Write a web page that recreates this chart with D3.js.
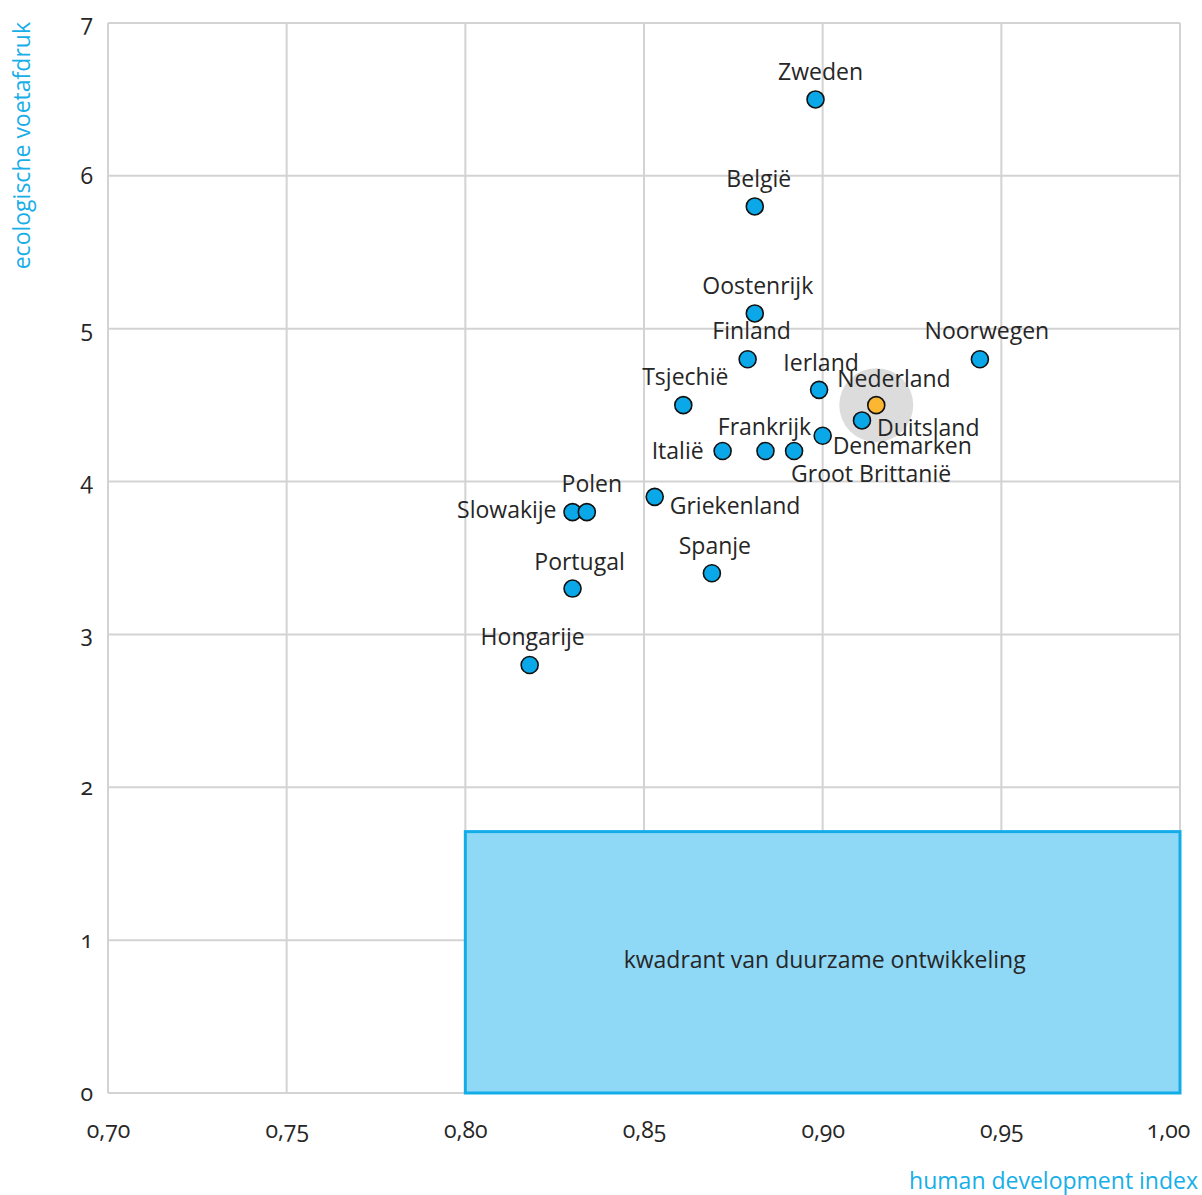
<!DOCTYPE html>
<html><head><meta charset="utf-8">
<script src="https://cdn.jsdelivr.net/npm/d3@7"></script>
<style>
body{margin:0;background:#fff;}
svg text{font-family:"Open Sans","Noto Sans",sans-serif;fill:#262626;}
.num{font-variant-numeric:oldstyle-nums;font-feature-settings:"onum" 1;}
</style></head>
<body><svg id="c" width="1202" height="1195"></svg>
<script>
const countries = ["Zweden","België","Oostenrijk","Finland","Noorwegen","Ierland","Nederland","Duitsland","Denemarken","Tsjechië","Italië","Frankrijk","Groot Brittanië","Griekenland","Slowakije","Polen","Portugal","Spanje","Hongarije"];
const hdi = [0.898,0.881,0.881,0.879,0.944,0.899,0.915,0.911,0.900,0.861,0.872,0.884,0.892,0.853,0.830,0.834,0.830,0.869,0.818];
const footprint = [6.5,5.8,5.1,4.8,4.8,4.6,4.5,4.4,4.3,4.5,4.2,4.2,4.2,3.9,3.8,3.8,3.3,3.4,2.8];
const xTicks = [0.70,0.75,0.80,0.85,0.90,0.95,1.00];
const yTicks = [0,1,2,3,4,5,6,7];
const quadrant = {x0:0.80, x1:1.00, y0:0, y1:1.71};
const highlight = "Nederland";
// label layout: [dx, dy, anchor]
const labelLayout = {
 "Zweden":[5,-19,"middle"],"België":[4,-19,"middle"],"Oostenrijk":[3,-19,"middle"],
 "Finland":[4,-20,"middle"],"Noorwegen":[7,-20,"middle"],"Ierland":[2,-19,"middle"],
 "Nederland":[-39,-18,"start"],"Duitsland":[15,16,"start"],"Denemarken":[10,18,"start"],
 "Tsjechië":[2,-20,"middle"],"Italië":[-19,8,"end"],"Frankrijk":[-1,-16,"middle"],
 "Groot Brittanië":[-3,31,"start"],"Griekenland":[15,17,"start"],"Slowakije":[-16,6,"end"],
 "Polen":[5,-20,"middle"],"Portugal":[7,-19,"middle"],"Spanje":[3,-19,"middle"],"Hongarije":[3,-20,"middle"]
};

const svg = d3.select("#c");
const x = d3.scaleLinear().domain([0.70,1.00]).range([108,1180]);
const y = d3.scaleLinear().domain([0,7]).range([1093,23]);
const grid = "#d3d3d3";

// grid
svg.append("g").selectAll("line").data(xTicks).join("line")
  .attr("x1",d=>x(d)).attr("x2",d=>x(d)).attr("y1",y(0)).attr("y2",y(7))
  .attr("stroke",grid).attr("stroke-width",2);
svg.append("g").selectAll("line").data(yTicks).join("line")
  .attr("x1",x(0.70)).attr("x2",x(1.00)).attr("y1",d=>y(d)).attr("y2",d=>y(d))
  .attr("stroke",grid).attr("stroke-width",2);

// axes (labels only)
const fmt = d => d3.format(".2f")(d).replace(".",",");
const xa = svg.append("g").attr("transform",`translate(0,${y(0)})`)
  .call(d3.axisBottom(x).tickValues(xTicks).tickFormat(fmt).tickSize(0).tickPadding(29));
xa.select(".domain").remove();
xa.selectAll("text").attr("class","num").attr("font-size",23).style("fill","#262626")
  .attr("font-family",'"Open Sans","Noto Sans",sans-serif')
  .attr("dx",d=>d===1.00?-12:0);
const ya = svg.append("g").attr("transform",`translate(${x(0.70)},0)`)
  .call(d3.axisLeft(y).tickValues(yTicks).tickFormat(d3.format("d")).tickSize(0).tickPadding(15));
ya.select(".domain").remove();
ya.selectAll("text").attr("class","num").attr("font-size",23).style("fill","#262626")
  .attr("font-family",'"Open Sans","Noto Sans",sans-serif');

// quadrant
svg.append("rect").attr("x",x(quadrant.x0)).attr("y",y(quadrant.y1))
  .attr("width",x(quadrant.x1)-x(quadrant.x0)).attr("height",y(quadrant.y0)-y(quadrant.y1))
  .attr("fill","#8fd8f6").attr("stroke","#12ade9").attr("stroke-width",3);
svg.append("text").attr("x",x((quadrant.x0+quadrant.x1)/2)+2).attr("y",y(0.82))
  .attr("text-anchor","middle").attr("font-size",23).text("kwadrant van duurzame ontwikkeling");

// axis titles
svg.append("text").attr("x",1198).attr("y",1189).attr("text-anchor","end")
  .attr("font-size",23).style("fill","#18aee8").text("human development index");
svg.append("text").attr("transform","translate(30,22) rotate(-90)").attr("text-anchor","end")
  .attr("font-size",23).style("fill","#18aee8").text("ecologische voetafdruk");

const data = countries.map((c,i)=>({c, x:hdi[i], y:footprint[i]}));
// halo
const h = data.find(d=>d.c===highlight);
svg.append("circle").attr("cx",x(h.x)).attr("cy",y(h.y)).attr("r",37).attr("fill","#dcdcdd");

// points
svg.append("g").selectAll("circle").data(data).join("circle")
  .attr("cx",d=>x(d.x)).attr("cy",d=>y(d.y)).attr("r",8.5)
  .attr("fill",d=>d.c===highlight?"#fbb731":"#0aa8e8")
  .attr("stroke","#111").attr("stroke-width",1.6);

// labels
svg.append("g").selectAll("text").data(data).join("text")
  .attr("x",d=>x(d.x)+labelLayout[d.c][0]).attr("y",d=>y(d.y)+labelLayout[d.c][1])
  .attr("text-anchor",d=>labelLayout[d.c][2]).attr("font-size",23).text(d=>d.c);
</script></body></html>
